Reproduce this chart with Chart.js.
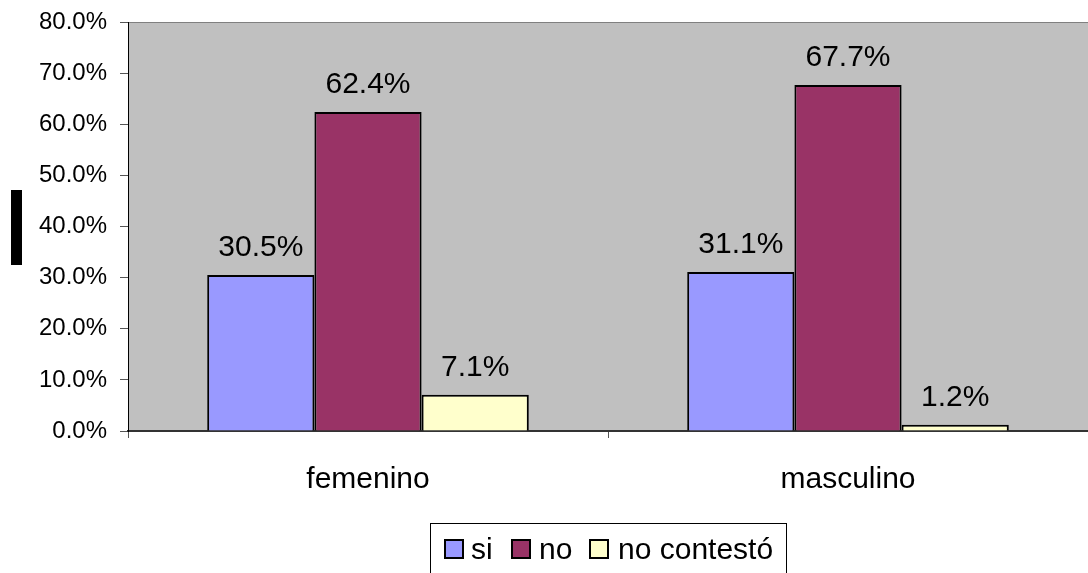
<!DOCTYPE html>
<html>
<head>
<meta charset="utf-8">
<script src="https://cdn.jsdelivr.net/npm/chart.js@4"></script>
<style>
    body { margin: 0; background: #fff; font-family: "Liberation Sans", Arial, sans-serif; }
    #wrap { position: relative; width: 1088px; height: 573px; overflow: hidden; }
    #blackBar { position: absolute; left: 11px; top: 190px; width: 11px; height: 75px; background: #000; }
    #legend { position: absolute; left: 430px; top: 523px; width: 357px; height: 60px; border: 1px solid #000; box-sizing: border-box; }
    #legend span.sw { position: absolute; top: 15px; width: 20px; height: 20px; border: 2px solid #000; box-sizing: border-box; }
    #legend span.txt { position: absolute; top: 7px; font-size: 30px; line-height: 36px; color: #000; }
</style>
</head>
<body>
<div id="wrap">
    <canvas id="chart" width="1088" height="573"></canvas>
    <div id="blackBar"></div>
    <div id="legend"></div>
</div>
<script>
// Chart data
const categories = ["femenino", "masculino"];
const seriesNames = ["si", "no", "no contestó"];
const siValues = [30.5, 31.1];
const noValues = [62.4, 67.7];
const noContestoValues = [7.1, 1.2];
const seriesColors = ["#9999FF", "#993366", "#FFFFCC"];
const yTicks = [0, 10, 20, 30, 40, 50, 60, 70, 80];

const FONT = "'Liberation Sans', Arial, sans-serif";

// gray plot area behind bars
const plotBackground = {
    id: 'plotBackground',
    beforeDraw(chart) {
        const ctx = chart.ctx;
        const a = chart.chartArea;
        ctx.save();
        ctx.fillStyle = '#C0C0C0';
        ctx.fillRect(a.left, a.top, a.right - a.left, a.bottom - a.top);
        ctx.strokeStyle = '#808080';
        ctx.lineWidth = 1;
        ctx.beginPath();
        ctx.moveTo(a.left, a.top + 0.5);
        ctx.lineTo(a.right, a.top + 0.5);
        ctx.stroke();
        ctx.restore();
    }
};

// percentage labels above bars
const valueLabels = {
    id: 'valueLabels',
    afterDatasetsDraw(chart) {
        const ctx = chart.ctx;
        ctx.save();
        ctx.font = '30px ' + FONT;
        ctx.fillStyle = '#000';
        ctx.textAlign = 'center';
        ctx.textBaseline = 'alphabetic';
        chart.data.datasets.forEach((ds, i) => {
            chart.getDatasetMeta(i).data.forEach((bar, j) => {
                ctx.fillText(ds.data[j].toFixed(1) + '%', bar.x, bar.y - 19);
            });
        });
        ctx.restore();
    }
};

const allValues = [siValues, noValues, noContestoValues];

const config = {
    type: 'bar',
    data: {
        labels: categories,
        datasets: seriesNames.map((name, i) => ({
            label: name,
            data: allValues[i],
            backgroundColor: seriesColors[i],
            borderColor: '#000',
            borderWidth: 2,
            borderSkipped: 'bottom',
            barPercentage: 1,
            categoryPercentage: 0.67
        }))
    },
    options: {
        responsive: false,
        animation: false,
        layout: { padding: { top: 22, right: 0, left: 0, bottom: 0 } },
        plugins: {
            legend: { display: false },
            tooltip: { enabled: false }
        },
        scales: {
            x: {
                offset: true,
                grid: {
                    offset: true,
                    drawOnChartArea: false,
                    drawTicks: true,
                    tickLength: 7,
                    color: '#555'
                },
                border: { color: '#333', width: 2 },
                ticks: {
                    color: '#000',
                    font: { family: FONT, size: 30 },
                    padding: 24
                },
                afterFit(scale) {
                    scale.height = 142;
                    scale.paddingLeft = 0;
                    scale.paddingRight = 0;
                }
            },
            y: {
                min: 0,
                max: 80,
                afterBuildTicks(scale) { scale.ticks = yTicks.map(v => ({ value: v })); },
                grid: {
                    drawOnChartArea: false,
                    drawTicks: true,
                    tickLength: 8,
                    color: '#555'
                },
                border: { color: '#000', width: 1 },
                ticks: {
                    color: '#000',
                    font: { family: FONT, size: 24 },
                    padding: 13,
                    callback: v => v.toFixed(1) + '%'
                },
                afterFit(scale) {
                    scale.width = 128;
                    scale.paddingTop = 0;
                    scale.paddingBottom = 0;
                }
            }
        }
    },
    plugins: [plotBackground, valueLabels]
};

new Chart(document.getElementById('chart'), config);

// legend built from series names
const legend = document.getElementById('legend');
const swatchX = [13, 80, 158];
const textX = [40, 108, 187];
seriesNames.forEach((name, i) => {
    const sw = document.createElement('span');
    sw.className = 'sw';
    sw.style.left = swatchX[i] + 'px';
    sw.style.background = seriesColors[i];
    legend.appendChild(sw);
    const txt = document.createElement('span');
    txt.className = 'txt';
    txt.style.left = textX[i] + 'px';
    txt.textContent = name;
    legend.appendChild(txt);
});
</script>
</body>
</html>
